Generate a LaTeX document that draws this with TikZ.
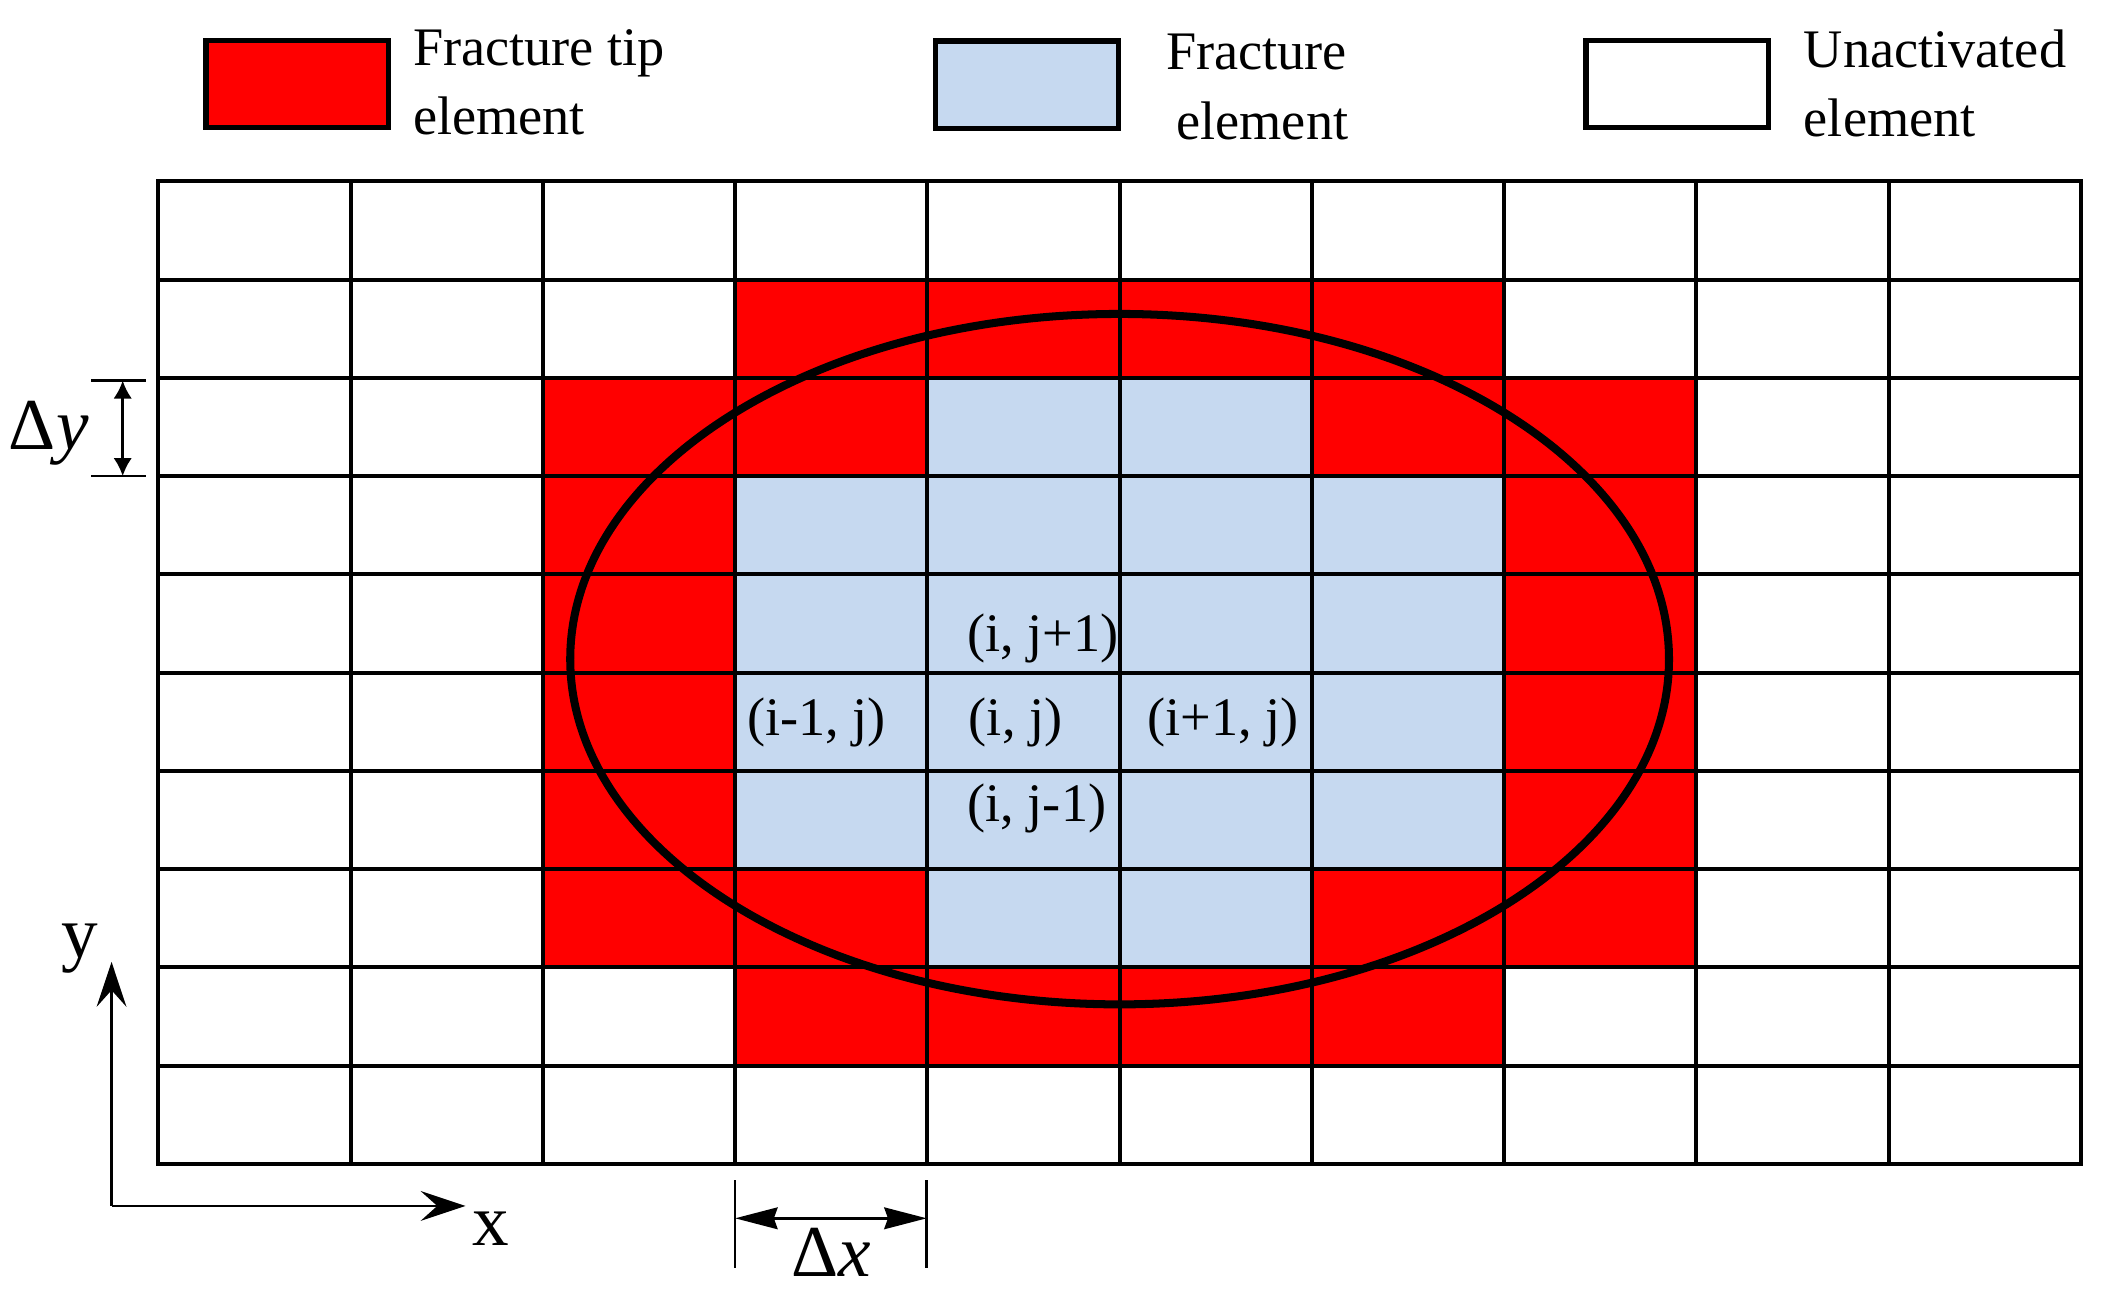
\documentclass[tikz,border=0pt]{standalone}
\usepackage{fontspec}
\setmainfont{Liberation Serif}
\usetikzlibrary{arrows.meta}
\definecolor{tipred}{RGB}{255,0,0}
\definecolor{fracblue}{RGB}{198,217,240}
\begin{document}
\begin{tikzpicture}[x=0.01cm,y=-0.01cm,
  gridline/.style={line width=0.85pt},
  legbox/.style={draw,line width=1.15pt,minimum width=1.36cm,minimum height=0.65cm,inner sep=0pt,outer sep=0pt},
  legtext/.style={font=\fontsize{11.5}{14}\selectfont,inner sep=0pt,anchor=base west},
  legtextr/.style={font=\fontsize{11.5}{14}\selectfont,inner sep=0pt,anchor=base east},
  celltext/.style={font=\fontsize{11.5}{14}\selectfont,inner sep=0pt,anchor=base west},
  biglabel/.style={font=\fontsize{15.5}{18}\selectfont,inner sep=0pt,anchor=base west},
  dimline/.style={line width=0.55pt},
  axisline/.style={line width=0.6pt,-{Stealth[length=9.5pt,width=6.3pt,inset=3.5pt]}},
  ellipseline/.style={line width=1.7pt}
]
\useasboundingbox (0,0) rectangle (1568,963);
% cells
\foreach \r/\c in {1/3,1/4,1/5,1/6,2/2,2/3,2/6,2/7,3/2,3/7,4/2,4/7,5/2,5/7,6/2,6/7,7/2,7/3,7/6,7/7,8/3,8/4,8/5,8/6}
  \fill[tipred] ({118+143.2*\c},{135+73.2*\r}) rectangle ++(143.2,73.2);
\foreach \r/\c in {2/4,2/5,3/3,3/4,3/5,3/6,4/3,4/4,4/5,4/6,5/3,5/4,5/5,5/6,6/3,6/4,6/5,6/6,7/4,7/5}
  \fill[fracblue] ({118+143.2*\c},{135+73.2*\r}) rectangle ++(143.2,73.2);
% grid
\foreach \i in {0,...,10}{
  \draw[gridline] ({118+143.2*\i},135) -- ({118+143.2*\i},867);
  \draw[gridline] (118,{135+73.2*\i}) -- (1550,{135+73.2*\i});
}
\draw[gridline,line join=miter] (118,135) rectangle (1550,867);
% ellipse
\draw[ellipseline] (834,491) ellipse [x radius=4.09cm, y radius=2.57cm];
% legend
\node[legbox,fill=tipred] (legtip) at (221.5,62.5) {};
\node[legbox,fill=fracblue] (legfrac) at (765,63) {};
\node[legbox,fill=white] (legun) at (1249.5,62.5) {};
\node[legtext] (tiptexta) at (307,49) {Fracture tip};
\node[legtext] (tiptextb) at (307,100) {element};
\node[legtextr] (fractexta) at (1004,52) {Fracture};
\node[legtextr] (fractextb) at (1005,104) {element};
\node[legtext] (untexta) at (1343,50) {Unactivated};
\node[legtext] (untextb) at (1343,102) {element};
% cell labels
\node[celltext] (cup) at (720,485.6) {(i, j+1)};
\node[celltext] (cleft) at (556,547.5) {(i-1, j)};
\node[celltext] (cmid) at (721,547.5) {(i, j)};
\node[celltext] (cright) at (854,547.5) {(i+1, j)};
\node[celltext] (cdown) at (720,612) {(i, j-1)};
% delta y
\coordinate (dyT) at (91.4,283.5);
\coordinate (dyB) at (91.4,354.6);
\coordinate (dyTa) at (68,283.5);
\coordinate (dyTb) at (108.5,283.5);
\coordinate (dyBa) at (68,354.6);
\coordinate (dyBb) at (108.5,354.6);
\draw[dimline] (dyTa) -- (dyTb);
\draw[dimline] (dyBa) -- (dyBb);
\draw[dimline,{Latex[length=3.8pt,width=3.9pt]}-{Latex[length=3.8pt,width=3.9pt]}] (dyT) -- (dyB);
\node[biglabel] (dylabel) at (6,334.7) {Δ\textit{y}};
% delta x
\coordinate (dxLa) at (547.6,879);
\coordinate (dxLb) at (547.6,944.6);
\coordinate (dxRa) at (690.3,879);
\coordinate (dxRb) at (690.3,944.6);
\coordinate (dxL) at (547.6,907.5);
\coordinate (dxR) at (690.3,907.5);
\draw[dimline] (dxLa) -- (dxLb);
\draw[dimline] (dxRa) -- (dxRb);
\draw[dimline,{Stealth[length=9pt,width=4.6pt,inset=0.8pt]}-{Stealth[length=9pt,width=4.6pt,inset=0.8pt]}] (dxL) -- (dxR);
\node[biglabel] (dxlabel) at (589,951) {Δ\textit{x}};
% axes
\coordinate (origin) at (83.1,898.3);
\coordinate (yend) at (83.1,716.5);
\coordinate (xend) at (346.8,898.3);
\draw[axisline] (origin) -- (yend);
\draw[axisline] (origin) -- (xend);
\node[biglabel] (ylabel) at (45,713) {y};
\node[biglabel] (xlabel) at (351.6,927.5) {x};
\end{tikzpicture}
\end{document}
